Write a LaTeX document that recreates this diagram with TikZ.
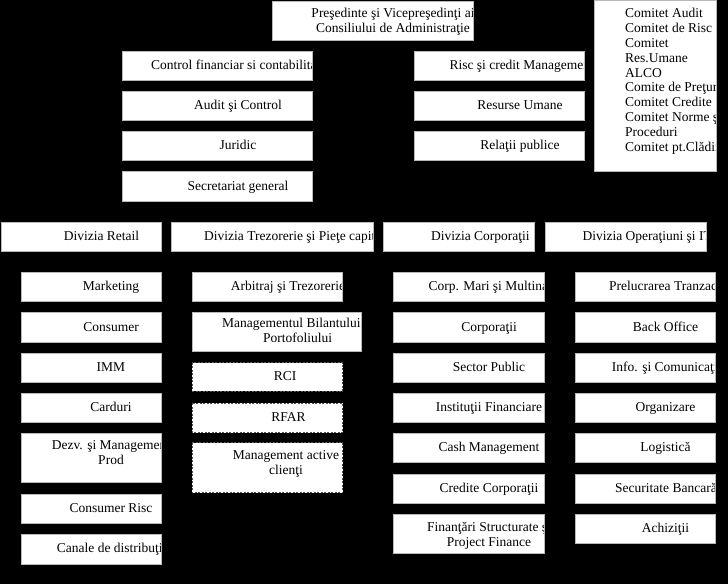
\documentclass[tikz,border=0pt]{standalone}
\usepackage{fontspec}
\setmainfont{Liberation Serif}
\tikzset{
  boxfill/.style={fill=white},
  boxedge/.style={draw=gray!55, line width=0.6pt},
  dashedge/.style={draw=gray!65!black, dash pattern=on 2pt off 1.5pt, line width=1pt},
  lbl/.style={inner sep=0pt, font=\fontsize{13.5}{15}\selectfont, text=black},
  ctr/.style={anchor=base},
  lft/.style={anchor=base west},
  two/.style={anchor=north, align=center},
}
% #1 name, #2 (x1,y1), #3 (x2,y2), #4 edge style, #5 label style, #6 label position, #7 text
\newcommand\orgbox[7]{%
  \fill[boxfill] #2 rectangle #3;
  \begin{scope}
    \clip #2 rectangle #3;
    \node[lbl,#5] (#1) at #6 {#7};
  \end{scope}
  \draw[#4] #2 rectangle #3;
}
\begin{document}
\begin{tikzpicture}[x=1pt,y=-1pt]
\useasboundingbox (0,0) rectangle (728,584);
\fill[black] (0,0) rectangle (728,584);

% top
\orgbox{pres}{(272.7,1.5)}{(473.3,40)}{boxedge}{two}{(393,8)}{Preşedinte şi Vicepreşedinţi ai\\Consiliului de Administraţie}
% committees
\orgbox{com}{(594,0)}{(716,171.7)}{boxedge}{anchor=north west, align=left, font=\fontsize{13.5}{14.8}\selectfont}{(625,8.3)}{Comitet Audit\\Comitet de Risc\\Comitet\\Res.Umane\\ALCO\\Comite de Preţuri\\Comitet Credite\\Comitet Norme şi\\Proceduri\\Comitet pt.Clădiri}

% staff left
\orgbox{cfc}{(122,51)}{(312,80)}{boxedge}{lft}{(151,69.5)}{Control financiar si contabilitate}
\orgbox{aud}{(122,91)}{(312,120)}{boxedge}{ctr}{(238,109.5)}{Audit şi Control}
\orgbox{jur}{(122,131)}{(312,160.7)}{boxedge}{ctr}{(238,149.8)}{Juridic}
\orgbox{sec}{(122,171.7)}{(312,201)}{boxedge}{ctr}{(238,190.3)}{Secretariat general}
% staff right
\orgbox{risc}{(414,51)}{(584,80)}{boxedge}{lft}{(449.3,69.5)}{Risc şi credit Management}
\orgbox{hr}{(414,91)}{(584,120)}{boxedge}{ctr}{(520,109.5)}{Resurse Umane}
\orgbox{pr}{(414,131)}{(584,160.7)}{boxedge}{ctr}{(520,149.8)}{Relaţii publice}

% divisions
\orgbox{dret}{(1.7,222.3)}{(161,251.7)}{boxedge}{ctr}{(101.5,240.5)}{Divizia Retail}
\orgbox{dtrez}{(171.7,222.3)}{(373.5,251.7)}{boxedge}{lft}{(204,240.5)}{Divizia Trezorerie şi Pieţe capital}
\orgbox{dcorp}{(383.3,222.3)}{(534,251.7)}{boxedge}{ctr}{(480.3,240.5)}{Divizia Corporaţii}
\orgbox{dops}{(545,222.3)}{(706,251.7)}{boxedge}{lft}{(582.3,240.5)}{Divizia Operaţiuni şi IT}

% retail column
\orgbox{mkt}{(21,272.3)}{(161,301.7)}{boxedge}{ctr}{(111,290.5)}{Marketing}
\orgbox{cons}{(21,312.7)}{(161,342.3)}{boxedge}{ctr}{(111,331)}{Consumer}
\orgbox{imm}{(21,353.3)}{(161,382.7)}{boxedge}{ctr}{(111,371.5)}{IMM}
\orgbox{card}{(21,393.3)}{(161,422.7)}{boxedge}{ctr}{(111,411.5)}{Carduri}
\orgbox{dezv}{(21,433.3)}{(161,482.7)}{boxedge}{two}{(111,440)}{Dezv. şi Management\\Prod}
\orgbox{crisc}{(21,494.3)}{(161,523.3)}{boxedge}{ctr}{(111,512.3)}{Consumer Risc}
\orgbox{can}{(21,534.3)}{(161,564)}{boxedge}{lft}{(56.7,552.7)}{Canale de distribuţie}

% treasury column
\orgbox{arb}{(192.3,272.3)}{(342.7,301.7)}{boxedge}{lft}{(230.7,290.5)}{Arbitraj şi Trezorerie}
\orgbox{mbp}{(192.3,312.3)}{(361.7,351.7)}{boxedge}{two}{(297.5,318.3)}{Managementul Bilantului\hphantom{ şi}\\Portofoliului}
\orgbox{rci}{(192.3,362.7)}{(342.7,391)}{dashedge}{ctr}{(285,380.4)}{RCI}
\orgbox{rfar}{(192.3,403.3)}{(342.7,432.7)}{dashedge}{ctr}{(288.5,421.5)}{RFAR}
\orgbox{mac}{(192.3,442.7)}{(342.7,492.7)}{dashedge}{two}{(286,450.7)}{Management active\\clienţi}

% corporate column
\orgbox{cmm}{(393.3,272.3)}{(544,301.7)}{boxedge}{lft}{(428.3,290.5)}{Corp. Mari şi Multinaţionale}
\orgbox{corp}{(393.3,312.7)}{(544,342.3)}{boxedge}{ctr}{(489,331)}{Corporaţii}
\orgbox{sp}{(393.3,353.3)}{(544,382.7)}{boxedge}{ctr}{(489,371.5)}{Sector Public}
\orgbox{ifin}{(393.3,393.3)}{(544,422.7)}{boxedge}{ctr}{(489,411.5)}{Instituţii Financiare}
\orgbox{cash}{(393.3,433.3)}{(544,462.7)}{boxedge}{ctr}{(489,451.5)}{Cash Management}
\orgbox{cred}{(393.3,474)}{(544,503.3)}{boxedge}{ctr}{(489,492.2)}{Credite Corporaţii}
\orgbox{fin}{(393.3,514.3)}{(544,553.3)}{boxedge}{two}{(489,521.7)}{Finanţări Structurate şi\\Project Finance}

% operations column
\orgbox{prel}{(575,272.3)}{(715.3,301.7)}{boxedge}{lft}{(609,290.5)}{Prelucrarea Tranzacţiilor}
\orgbox{bo}{(575,312.7)}{(715.3,342.3)}{boxedge}{ctr}{(665.5,331)}{Back Office}
\orgbox{info}{(575,353.3)}{(715.3,382.7)}{boxedge}{lft}{(611.7,371.5)}{Info. şi Comunicaţii}
\orgbox{org}{(575,393.3)}{(715.3,422.7)}{boxedge}{ctr}{(665.5,411.5)}{Organizare}
\orgbox{log}{(575,433.3)}{(715.3,462.7)}{boxedge}{ctr}{(665.5,451.5)}{Logistică}
\orgbox{secb}{(575,474)}{(715.3,503.3)}{boxedge}{lft}{(615,492.2)}{Securitate Bancară}
\orgbox{ach}{(575,514.3)}{(715.3,543.3)}{boxedge}{ctr}{(665.5,532.3)}{Achiziţii}
\end{tikzpicture}
\end{document}
